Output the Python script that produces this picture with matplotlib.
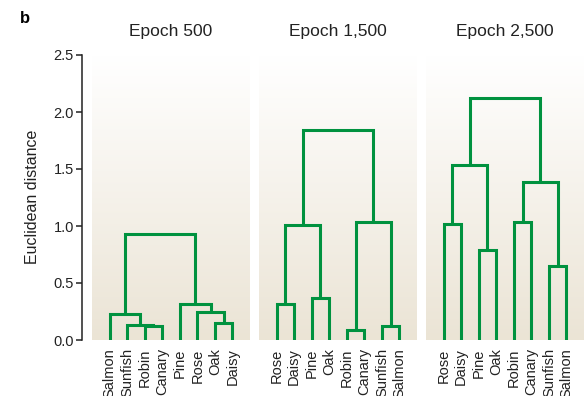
import numpy as np
import matplotlib
matplotlib.use('Agg')
import matplotlib.pyplot as plt

plt.rcParams['font.family'] = ['Liberation Sans', 'DejaVu Sans']

# Leaf order and merges (left node, right node, height) for each epoch.
# Leaves are nodes 0-7, every merge creates the next node index.
titles = ['Epoch 500', 'Epoch 1,500', 'Epoch 2,500']

leaves_500 = ['Salmon', 'Sunfish', 'Robin', 'Canary', 'Pine', 'Rose', 'Oak', 'Daisy']
merges_500 = [(2, 3, 0.123), (1, 8, 0.131), (0, 9, 0.225),
              (6, 7, 0.146), (5, 11, 0.245), (4, 12, 0.315), (10, 13, 0.927)]

leaves_1500 = ['Rose', 'Daisy', 'Pine', 'Oak', 'Robin', 'Canary', 'Sunfish', 'Salmon']
merges_1500 = [(0, 1, 0.313), (2, 3, 0.371), (8, 9, 1.006),
               (4, 5, 0.088), (6, 7, 0.120), (11, 12, 1.035), (10, 13, 1.839)]

leaves_2500 = ['Rose', 'Daisy', 'Pine', 'Oak', 'Robin', 'Canary', 'Sunfish', 'Salmon']
merges_2500 = [(0, 1, 1.015), (2, 3, 0.792), (8, 9, 1.532),
               (4, 5, 1.035), (6, 7, 0.646), (11, 12, 1.389), (10, 13, 2.125)]

yticks = [0.0, 0.5, 1.0, 1.5, 2.0, 2.5]

green = '#00923f'
W, H = 585, 396

fig = plt.figure(figsize=(W / 100, H / 100), dpi=100)

# beige-to-white vertical gradient behind each panel
bottom_col = np.array([235, 228, 213]) / 255
top_col = np.array([255, 255, 255]) / 255
t = np.linspace(0, 1, 256)[:, None]
grad = bottom_col * (1 - t) + top_col * t
grad = grad[:, None, :]

panel_left = [92, 259, 426]
panel_w = 158
y_bot, y_top = 340, 55


def draw_dendro(ax, leaves, merges):
    xs = list(range(len(leaves)))
    hs = [0.0] * len(leaves)
    for a, b, h in merges:
        ax.plot([xs[a], xs[a], xs[b], xs[b]], [hs[a], h, h, hs[b]],
                color=green, lw=2.2, solid_joinstyle='miter',
                solid_capstyle='butt', zorder=3)
        xs.append((xs[a] + xs[b]) / 2)
        hs.append(h)


data = [(leaves_500, merges_500), (leaves_1500, merges_1500),
        (leaves_2500, merges_2500)]

for i, (leaves, merges) in enumerate(data):
    ax = fig.add_axes([panel_left[i] / W, 1 - y_bot / H,
                       panel_w / W, (y_bot - y_top) / H])
    ax.imshow(grad, extent=(-1, 8, 0, 2.5), aspect='auto', origin='lower',
              zorder=0)
    draw_dendro(ax, leaves, merges)
    ax.set_xlim(-1, 8)
    ax.set_ylim(0, 2.5)
    ax.set_xticks(range(len(leaves)))
    ax.set_xticklabels(leaves, rotation=90, fontsize=10.5, color='#222222')
    ax.tick_params(axis='x', length=0, pad=6)
    ax.set_title(titles[i], fontsize=12.5, color='#222222', pad=14)
    for s in ['top', 'right', 'bottom']:
        ax.spines[s].set_visible(False)
    if i == 0:
        ax.spines['left'].set_position(('outward', 7))
        ax.spines['left'].set_linewidth(1.1)
        ax.spines['left'].set_color('#222222')
        ax.set_yticks(yticks)
        ax.set_yticklabels([f'{v:.1f}' for v in yticks], fontsize=10.5,
                           color='#222222')
        ax.tick_params(axis='y', length=4, width=1.1, color='#222222', pad=2)
    else:
        ax.spines['left'].set_visible(False)
        ax.set_yticks([])

fig.text(33 / W, 0.502, 'Euclidean distance', rotation=90, fontsize=11.5,
         color='#222222', ha='center', va='center')
fig.text(20 / W, 1 - 23 / H, 'b', fontsize=12, fontweight='bold',
         ha='left', va='baseline')

fig.savefig('out.png', dpi=100)
